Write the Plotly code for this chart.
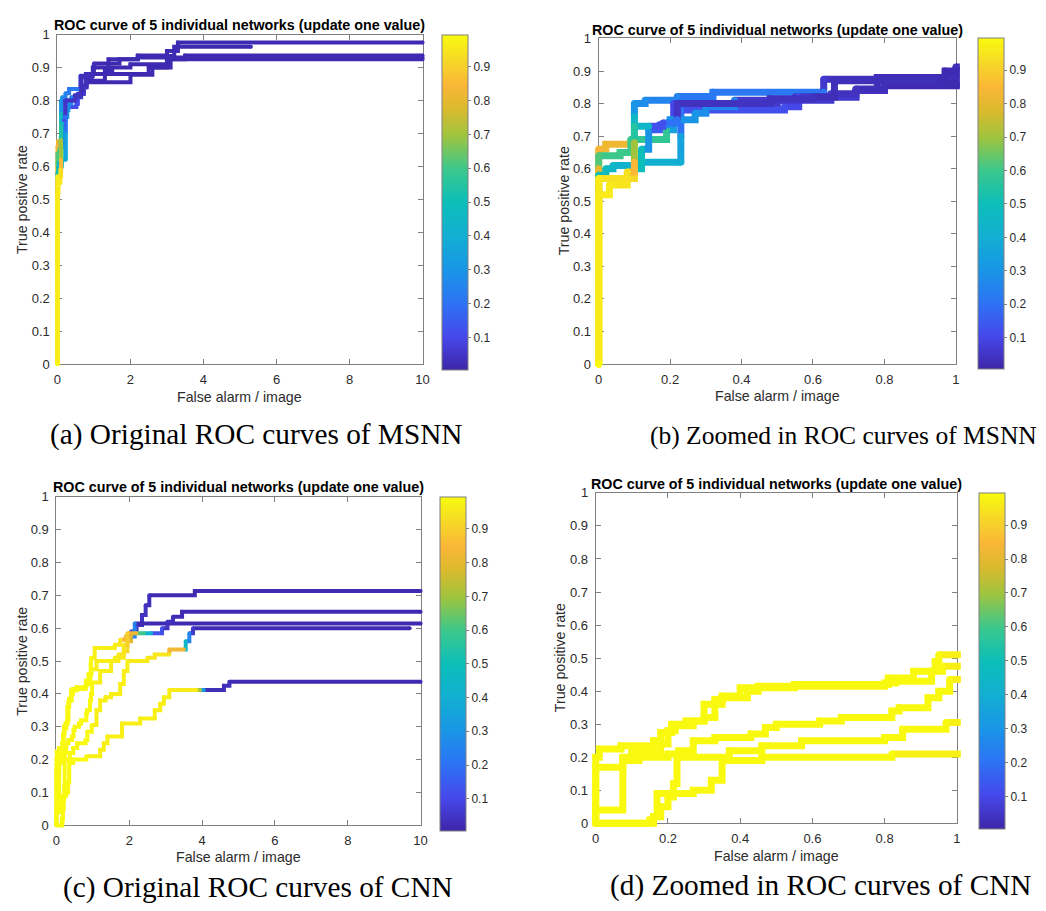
import plotly.graph_objects as go

FIG_W, FIG_H = 1046, 911

# ---------------------------------------------------------------------------
# ROC staircase break points: the curve runs right to fa[i], then up to tpr[i].
# thr[i] is the score threshold reached at that break point (colour value).
# ---------------------------------------------------------------------------

# MSNN, five individual networks
msnn_fa = [
    [0, 0, 0, 0, 0.02, 0.1, 0.1, 0.1, 0.1, 0.13, 0.22, 0.32, 0.63, 0.63, 0.97, 1.0, 1.7, 2.2, 3.0, 3.3, 10],
    [0, 0, 0, 0, 0.06, 0.09, 0.09, 0.19, 0.21, 0.21, 0.5, 0.55, 0.72, 0.78, 1.0, 2.5, 3.0, 3.2, 5.3],
    [0, 0, 0, 0, 0.02, 0.04, 0.11, 0.23, 0.23, 0.23, 0.52, 0.56, 0.72, 0.8, 2.0, 2.6, 3.1, 3.5, 10],
    [0, 0, 0.03, 0.08, 0.1, 0.12, 0.14, 0.17, 0.2, 0.27, 0.3, 0.38, 0.65, 0.72, 0.8, 1.3, 1.5, 2.0, 3.0, 10],
    [0, 0, 0.08, 0.1, 0.1, 0.1, 0.14, 0.18, 0.22, 0.22, 0.48, 0.6, 0.66, 0.94, 0.97, 1.4, 2.2, 10],
]
msnn_tpr = [
    [0, 0.5, 0.62, 0.66, 0.675, 0.675, 0.72, 0.76, 0.8, 0.81, 0.822, 0.835, 0.835, 0.875, 0.89, 0.912, 0.925, 0.936, 0.95, 0.976, 0.976],
    [0, 0.5, 0.6, 0.64, 0.65, 0.65, 0.69, 0.72, 0.75, 0.8, 0.81, 0.82, 0.84, 0.88, 0.88, 0.9, 0.935, 0.963, 0.963],
    [0, 0.5, 0.56, 0.58, 0.6, 0.61, 0.62, 0.62, 0.7, 0.78, 0.79, 0.82, 0.84, 0.855, 0.878, 0.9, 0.925, 0.936, 0.936],
    [0, 0.52, 0.55, 0.57, 0.6, 0.66, 0.72, 0.735, 0.75, 0.77, 0.79, 0.81, 0.83, 0.845, 0.86, 0.89, 0.9, 0.91, 0.925, 0.925],
    [0, 0.57, 0.59, 0.62, 0.68, 0.73, 0.73, 0.74, 0.75, 0.8, 0.815, 0.82, 0.87, 0.88, 0.9, 0.925, 0.93, 0.93],
]
msnn_thr = [
    [0.99, 0.97, 0.9, 0.84, 0.82, 0.82, 0.65, 0.45, 0.3, 0.28, 0.25, 0.22, 0.22, 0.06, 0.04, 0.03, 0.02, 0.02, 0.02, 0.02, 0.02],
    [0.99, 0.97, 0.8, 0.62, 0.6, 0.6, 0.6, 0.58, 0.35, 0.1, 0.06, 0.05, 0.04, 0.03, 0.03, 0.02, 0.02, 0.02, 0.02],
    [0.99, 0.97, 0.75, 0.5, 0.48, 0.45, 0.42, 0.4, 0.35, 0.2, 0.12, 0.1, 0.06, 0.04, 0.02, 0.02, 0.02, 0.02, 0.02],
    [0.99, 0.97, 0.96, 0.95, 0.92, 0.5, 0.3, 0.15, 0.3, 0.3, 0.28, 0.25, 0.06, 0.04, 0.03, 0.02, 0.02, 0.02, 0.02, 0.02],
    [0.99, 0.96, 0.94, 0.85, 0.7, 0.55, 0.45, 0.12, 0.2, 0.05, 0.04, 0.04, 0.03, 0.03, 0.02, 0.02, 0.02, 0.02],
]

# CNN, five individual networks
cnn_fa = [
    [0, 0, 0.01, 0.07, 0.16, 0.18, 0.21, 0.25, 0.3, 0.33, 0.35, 0.4, 0.55, 0.81, 0.88, 0.94, 0.95,
     1.05, 1.6, 1.75, 1.9, 2.05, 2.2, 2.35, 2.45, 2.55, 3.8, 10],
    [0, 0, 0.075, 0.1, 0.18, 0.2, 0.22, 0.27, 0.3, 0.33, 0.35, 0.42, 0.45, 0.8, 0.83, 0.93, 0.96,
     1.1, 1.6, 1.85, 1.95, 2.05, 2.15, 10],
    [0, 0, 0.075, 0.12, 0.2, 0.23, 0.27, 0.33, 0.43, 0.47, 0.5, 0.62, 0.68, 0.82, 0.84, 0.92, 0.95, 0.98,
     1.2, 1.5, 1.7, 1.85, 1.95, 2.2, 2.4, 2.6, 2.9, 3.05, 3.2, 3.45, 10],
    [0, 0.16, 0.18, 0.2, 0.215, 0.225, 0.37, 0.46, 0.57, 0.8, 0.85, 0.97,
     1.1, 1.2, 1.35, 1.5, 1.75, 1.85, 1.95, 2.5, 2.7, 3.1, 3.1, 3.5, 3.55, 3.65, 3.75, 9.7],
    [0, 0.15, 0.16, 0.17, 0.27, 0.32, 0.35, 0.46, 0.82,
     1.2, 1.3, 1.4, 1.8, 2.3, 2.7, 2.85, 2.95, 3.1, 3.85, 3.95, 4.05, 4.6, 4.75, 10],
]
cnn_tpr = [
    [0, 0.2, 0.225, 0.235, 0.25, 0.275, 0.3, 0.31, 0.36, 0.375, 0.385, 0.41, 0.42, 0.44, 0.46, 0.49, 0.51,
     0.54, 0.55, 0.565, 0.575, 0.59, 0.61, 0.64, 0.67, 0.7, 0.713, 0.713],
    [0, 0.17, 0.2, 0.215, 0.24, 0.28, 0.295, 0.31, 0.32, 0.36, 0.38, 0.4, 0.415, 0.425, 0.43, 0.46, 0.475,
     0.5, 0.51, 0.53, 0.56, 0.575, 0.614, 0.614],
    [0, 0.04, 0.19, 0.2, 0.21, 0.22, 0.25, 0.26, 0.27, 0.29, 0.3, 0.31, 0.32, 0.34, 0.35, 0.38, 0.4, 0.435,
     0.47, 0.5, 0.52, 0.55, 0.585, 0.585, 0.585, 0.585, 0.6, 0.62, 0.635, 0.65, 0.65],
    [0, 0.02, 0.05, 0.08, 0.12, 0.2, 0.22, 0.235, 0.25, 0.26, 0.285, 0.305,
     0.35, 0.38, 0.39, 0.4, 0.43, 0.47, 0.5, 0.51, 0.52, 0.52, 0.535, 0.535, 0.56, 0.585, 0.6, 0.6],
    [0, 0.01, 0.02, 0.09, 0.1, 0.13, 0.19, 0.2, 0.21,
     0.23, 0.25, 0.27, 0.31, 0.325, 0.35, 0.37, 0.39, 0.412, 0.412, 0.412, 0.412, 0.425, 0.437, 0.437],
]
cnn_thr = [
    [0.99] * 17 + [0.97, 0.97, 0.96, 0.85, 0.1, 0.05, 0.04, 0.04, 0.03, 0.02, 0.02],
    [0.99] * 17 + [0.97, 0.97, 0.96, 0.92, 0.8, 0.25, 0.02],
    [0.99] * 18 + [0.97, 0.97, 0.96, 0.95, 0.9, 0.82, 0.6, 0.4, 0.12, 0.04, 0.03, 0.02, 0.02],
    [0.99] * 12 + [0.97] * 7 + [0.96, 0.95, 0.95, 0.84, 0.83, 0.45, 0.25, 0.06, 0.02],
    [0.99] * 9 + [0.97] * 9 + [0.96, 0.7, 0.3, 0.03, 0.03, 0.02],
]

y_ticks = [0, 0.1, 0.2, 0.3, 0.4, 0.5, 0.6, 0.7, 0.8, 0.9, 1]
y_ticktext = ["0", "0.1", "0.2", "0.3", "0.4", "0.5", "0.6", "0.7", "0.8", "0.9", "1"]
x_ticks_full = [0, 2, 4, 6, 8, 10]
x_ticktext_full = ["0", "2", "4", "6", "8", "10"]
x_ticks_zoom = [0, 0.2, 0.4, 0.6, 0.8, 1]
x_ticktext_zoom = ["0", "0.2", "0.4", "0.6", "0.8", "1"]
cb_ticks = [0.1, 0.2, 0.3, 0.4, 0.5, 0.6, 0.7, 0.8, 0.9]
cb_ticktext = ["0.1", "0.2", "0.3", "0.4", "0.5", "0.6", "0.7", "0.8", "0.9"]

plot_title = "ROC curve of 5 individual networks (update one value)"
x_label = "False alarm / image"
y_label = "True positive rate"
captions = [
    "(a) Original ROC curves of MSNN",
    "(b) Zoomed in ROC curves of MSNN",
    "(c) Original ROC curves of CNN",
    "(d) Zoomed in ROC curves of CNN",
]

# ---------------------------------------------------------------------------
# parula-style colour map
# ---------------------------------------------------------------------------
PARULA = [
    (0.00, (62, 38, 168)),
    (0.10, (70, 72, 235)),
    (0.20, (45, 115, 245)),
    (0.30, (25, 150, 230)),
    (0.40, (18, 175, 210)),
    (0.50, (12, 190, 185)),
    (0.60, (60, 200, 140)),
    (0.70, (160, 196, 62)),
    (0.78, (218, 186, 45)),
    (0.85, (250, 182, 55)),
    (0.92, (246, 214, 40)),
    (1.00, (249, 251, 14)),
]
CB_MIN, CB_MAX = 0.005, 0.995
COLORSCALE = [[p, "rgb(%d,%d,%d)" % c] for p, c in PARULA]


def parula(t):
    u = min(max((t - CB_MIN) / (CB_MAX - CB_MIN), 0.0), 1.0)
    for (p0, c0), (p1, c1) in zip(PARULA, PARULA[1:]):
        if u <= p1:
            f = (u - p0) / (p1 - p0)
            return "rgb(%d,%d,%d)" % tuple(round(a + (b - a) * f) for a, b in zip(c0, c1))
    return "rgb(%d,%d,%d)" % PARULA[-1][1]


def colour_runs(fa, tpr, thr):
    """Split one staircase into runs of equal colour (hv line pieces)."""
    cols = [parula(t) for t in thr]
    runs = []
    i = 1
    while i < len(fa):
        j = i
        while j + 1 < len(fa) and cols[j + 1] == cols[i]:
            j += 1
        runs.append((fa[i - 1:j + 1], tpr[i - 1:j + 1], cols[i]))
        i = j + 1
    return runs


# ---------------------------------------------------------------------------
# panel layout (pixel boxes of the plotting areas)
# caption: (x, y, anchor, font size)
# ---------------------------------------------------------------------------
PANELS = [
    dict(fa=msnn_fa, tpr=msnn_tpr, thr=msnn_thr, box=(54, 28, 423, 363), xmax=10,
         xt=(x_ticks_full, x_ticktext_full), lw=4, cb=443, title_y=18, ytitle_x=18,
         xtitle_y=397, cap=(44, 435, "left", 29.3)),
    dict(fa=msnn_fa, tpr=msnn_tpr, thr=msnn_thr, box=(601, 32, 962, 363), xmax=1,
         xt=(x_ticks_zoom, x_ticktext_zoom), lw=7, cb=984, title_y=23, ytitle_x=566,
         xtitle_y=396, cap=(651, 436, "left", 25.5)),
    dict(fa=cnn_fa, tpr=cnn_tpr, thr=cnn_thr, box=(53, 498, 421, 832), xmax=10,
         xt=(x_ticks_full, x_ticktext_full), lw=4, cb=441, title_y=488, ytitle_x=18,
         xtitle_y=864, cap=(58, 895, "left", 29.3)),
    dict(fa=cnn_fa, tpr=cnn_tpr, thr=cnn_thr, box=(598, 494, 963, 830), xmax=1,
         xt=(x_ticks_zoom, x_ticktext_zoom), lw=7, cb=985, title_y=485, ytitle_x=562,
         xtitle_y=863, cap=(610, 893, "left", 29.3)),
]

SANS = "Liberation Sans, Arial, Helvetica, sans-serif"
SERIF = "Liberation Serif, Times New Roman, serif"
AXIS_GREY = "#808080"
TEXT_GREY = "#2b2b2b"
LABEL_SIZE = 14.2
TICK_SIZE = 13


def px_x(p):
    return p / FIG_W


def px_y(p):
    return 1 - p / FIG_H


fig = go.Figure()
layout = {}
annotations = []

for k, P in enumerate(PANELS):
    L, T, R, B = P["box"]
    xmax = P["xmax"]
    ax_id = 2 * k + 1   # visible frame / ticks
    dat_id = 2 * k + 2  # data axes, slightly larger so thick strokes are not cut at the frame
    padL, padR, padB, padT = 5, 4, 5, 4
    sx = xmax / (R - L)
    sy = 1.0 / (B - T)

    frame = dict(showline=True, linecolor=AXIS_GREY, linewidth=1, mirror="ticks",
                 ticks="inside", ticklen=5, tickcolor=AXIS_GREY, tickwidth=1,
                 showgrid=False, zeroline=False, fixedrange=True,
                 tickfont=dict(family=SANS, size=TICK_SIZE, color=TEXT_GREY))
    layout["xaxis%d" % ax_id] = dict(frame, domain=[px_x(L), px_x(R)], range=[0, xmax],
                                     anchor="y%d" % ax_id, tickvals=P["xt"][0],
                                     ticktext=P["xt"][1], ticklabelstandoff=3)
    layout["yaxis%d" % ax_id] = dict(frame, domain=[px_y(B), px_y(T)], range=[0, 1],
                                     anchor="x%d" % ax_id, tickvals=y_ticks,
                                     ticktext=y_ticktext, ticklabelstandoff=4)
    layout["xaxis%d" % dat_id] = dict(domain=[px_x(L - padL), px_x(R + padR)],
                                      range=[-padL * sx, xmax + padR * sx],
                                      anchor="y%d" % dat_id, visible=False, fixedrange=True)
    layout["yaxis%d" % dat_id] = dict(domain=[px_y(B + padB), px_y(T - padT)],
                                      range=[-padB * sy, 1 + padT * sy],
                                      anchor="x%d" % dat_id, visible=False, fixedrange=True)

    # empty trace so the framed subplot is drawn
    fig.add_trace(go.Scatter(x=[], y=[], mode="markers", xaxis="x%d" % ax_id,
                             yaxis="y%d" % ax_id, hoverinfo="skip", showlegend=False))

    xa, ya = "x%d" % dat_id, "y%d" % dat_id
    for n in range(len(P["fa"])):
        fa, tpr, thr = P["fa"][n], P["tpr"][n], P["thr"][n]
        for xs, ys, col in colour_runs(fa, tpr, thr):
            fig.add_trace(go.Scatter(x=xs, y=ys, mode="lines", xaxis=xa, yaxis=ya,
                                     line=dict(color=col, width=P["lw"], shape="hv"),
                                     hoverinfo="skip", showlegend=False))
        fig.add_trace(go.Scatter(
            x=fa, y=tpr, mode="markers", xaxis=xa, yaxis=ya, hoverinfo="skip", showlegend=False,
            marker=dict(size=P["lw"], color=thr, colorscale=COLORSCALE, cmin=CB_MIN, cmax=CB_MAX,
                        line=dict(width=0), showscale=(n == 0),
                        colorbar=dict(x=px_x(P["cb"]), xanchor="left", xpad=0,
                                      y=px_y(T), yanchor="top", ypad=0,
                                      len=B - T, lenmode="pixels",
                                      thickness=26, thicknessmode="pixels",
                                      outlinewidth=1, outlinecolor=AXIS_GREY,
                                      tickvals=cb_ticks, ticktext=cb_ticktext,
                                      ticks="outside", ticklen=3, tickcolor=AXIS_GREY,
                                      tickfont=dict(family=SANS, size=12, color=TEXT_GREY)))))

    cx = (L + R) / 2
    cap_x, cap_y, cap_anchor, cap_size = P["cap"]
    annotations += [
        dict(text="<b>%s</b>" % plot_title, x=px_x(cx), y=px_y(P["title_y"]),
             xanchor="center", yanchor="middle", font=dict(family=SANS, size=14.3, color="#000")),
        dict(text=x_label, x=px_x(cx), y=px_y(P["xtitle_y"]),
             xanchor="center", yanchor="middle", font=dict(family=SANS, size=LABEL_SIZE, color=TEXT_GREY)),
        dict(text=y_label, x=px_x(P["ytitle_x"]), y=px_y((T + B) / 2), textangle=-90,
             xanchor="center", yanchor="middle", font=dict(family=SANS, size=LABEL_SIZE, color=TEXT_GREY)),
        dict(text=captions[k], x=px_x(cap_x), y=px_y(cap_y),
             xanchor=cap_anchor, yanchor="middle", font=dict(family=SERIF, size=cap_size, color="#000")),
    ]

for a in annotations:
    a.update(xref="paper", yref="paper", showarrow=False)

fig.update_layout(
    width=FIG_W, height=FIG_H,
    margin=dict(l=0, r=0, t=0, b=0),
    paper_bgcolor="white", plot_bgcolor="rgba(0,0,0,0)",
    showlegend=False, annotations=annotations,
    **layout,
)

fig.write_html("out.html", config={"displayModeBar": False})
